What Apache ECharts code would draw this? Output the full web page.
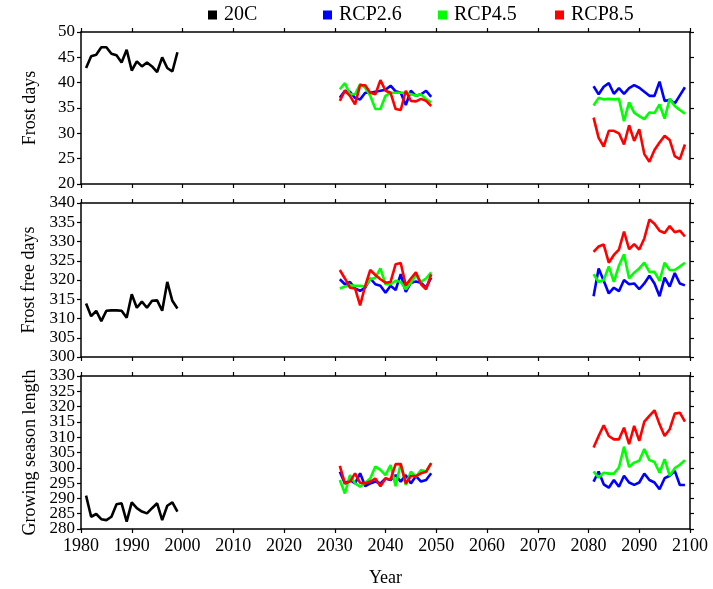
<!DOCTYPE html>
<html>
<head>
<meta charset="utf-8">
<script src="https://cdn.jsdelivr.net/npm/echarts@6/dist/echarts.min.js"></script>
<style>
  html, body { margin: 0; padding: 0; background: #fff; }
  #chart { width: 713px; height: 589px; }
</style>
</head>
<body>
<div id="chart"></div>
<script>
// Years of each simulated period
const years20C  = [1981,1982,1983,1984,1985,1986,1987,1988,1989,1990,1991,1992,1993,1994,1995,1996,1997,1998,1999];
const yearsMid  = [2031,2032,2033,2034,2035,2036,2037,2038,2039,2040,2041,2042,2043,2044,2045,2046,2047,2048,2049];
const yearsLate = [2081,2082,2083,2084,2085,2086,2087,2088,2089,2090,2091,2092,2093,2094,2095,2096,2097,2098,2099];

const scenarioNames = ['20C', 'RCP2.6', 'RCP4.5', 'RCP8.5'];
const panelTitles = ['Frost days', 'Frost free days', 'Growing season length'];
const xTitle = 'Year';

// Frost days
const frost20C    = [42.9,45.2,45.5,47.0,47.0,45.7,45.4,44.0,46.5,42.4,44.2,43.2,44.0,43.2,42.1,45.0,42.9,42.2,46.0];
const frost26Mid  = [37.0,38.4,38.2,37.0,36.7,38.0,38.0,38.2,38.4,38.6,39.4,38.3,38.0,35.6,38.4,37.4,37.7,38.4,37.2];
const frost26Late = [39.3,37.7,39.2,39.9,37.8,38.9,37.8,38.9,39.5,39.0,38.2,37.4,37.4,40.2,36.4,36.6,35.9,37.5,39.1];
const frost45Mid  = [38.7,39.9,37.7,37.7,39.7,39.0,37.4,34.8,34.8,37.4,38.0,38.0,38.0,38.0,37.7,37.4,37.7,36.7,36.1];
const frost45Late = [35.5,37.0,36.7,36.8,36.7,36.8,32.4,36.1,34.1,33.4,32.8,34.1,34.0,35.7,32.9,36.8,35.4,34.6,33.9];
const frost85Mid  = [36.4,38.4,37.4,35.7,39.5,39.5,38.0,37.7,40.5,38.4,38.0,34.8,34.6,38.4,36.4,36.3,36.8,36.4,35.4];
const frost85Late = [33.1,29.1,27.4,30.5,30.5,30.0,27.8,31.6,28.5,30.8,25.9,24.4,26.7,28.2,29.5,28.7,25.5,24.9,27.8];

// Frost free days
const free20C    = [313.9,310.6,312.0,309.3,312.0,312.1,312.1,312.0,310.2,316.3,312.8,314.4,312.8,314.6,314.7,312.0,319.5,314.6,312.6];
const free26Mid  = [320.2,318.9,319.5,317.8,317.2,318.0,320.4,318.9,318.5,316.7,318.5,317.4,321.5,316.9,319.3,319.6,319.3,318.0,320.6];
const free26Late = [315.8,323.0,319.8,316.5,318.0,317.1,320.0,318.9,319.1,317.6,319.1,321.1,319.1,315.8,320.6,318.3,321.8,319.1,318.6];
const free45Mid  = [317.8,318.3,318.6,318.5,318.5,318.3,320.2,320.6,323.0,318.9,318.9,319.8,319.5,317.6,319.3,321.3,319.5,320.4,322.0];
const free45Late = [321.5,319.5,320.0,323.5,319.5,323.7,326.7,320.4,321.9,323.0,324.5,322.1,322.1,319.8,324.5,322.6,322.6,323.5,324.5];
const free85Mid  = [322.6,320.4,318.0,317.8,313.4,318.5,322.6,321.3,320.2,319.3,319.5,324.1,324.4,318.6,320.4,322.0,318.9,317.6,321.5];
const free85Late = [327.3,328.7,329.2,324.5,326.5,327.9,332.6,328.0,329.3,327.9,330.8,335.7,334.6,332.8,332.2,334.0,332.4,332.8,331.3];

// Growing season length
const gsl20C    = [290.9,284.0,284.9,283.2,282.9,284.0,288.1,288.4,282.4,288.7,286.8,285.7,285.1,286.8,288.4,282.9,287.6,288.7,285.7];
const gsl26Mid  = [298.7,294.9,296.0,294.9,298.2,294.0,294.9,295.5,294.9,296.5,296.0,297.6,295.5,297.6,294.9,297.3,295.5,296.0,298.2];
const gsl26Late = [295.5,298.8,294.6,293.5,296.0,293.8,297.4,295.2,294.4,295.2,298.1,296.0,295.2,293.0,296.6,297.4,299.0,294.4,294.4];
const gsl45Mid  = [296.0,291.6,297.6,294.9,293.8,295.1,296.5,300.4,299.3,297.6,300.9,294.0,301.5,294.4,298.7,297.1,299.3,298.7,301.5];
const gsl45Late = [298.8,296.8,298.4,298.1,298.1,300.1,306.9,300.3,301.7,302.3,306.1,302.5,301.9,298.4,302.8,297.4,299.9,301.0,302.5];
const gsl85Mid  = [300.6,294.9,295.5,298.2,295.1,294.9,295.5,296.5,294.0,296.5,296.2,301.2,301.2,294.9,297.3,297.3,298.2,298.7,301.5];
const gsl85Late = [306.6,310.4,313.9,310.4,309.3,309.3,313.1,307.7,313.7,308.8,315.1,317.0,318.8,314.2,310.4,312.6,317.7,318.0,315.1];

// Axis ranges of the three panels
const yMins = [20, 300, 280];
const yMaxs = [50, 340, 330];
const yStep = 5;
const xMin = 1980, xMax = 2100, xStep = 10;

const colors = { '20C': '#000000', 'RCP2.6': '#0000ff', 'RCP4.5': '#00ff00', 'RCP8.5': '#ff0000' };

const panels = [
  { base: frost20C, mid: [frost26Mid, frost45Mid, frost85Mid], late: [frost26Late, frost45Late, frost85Late] },
  { base: free20C,  mid: [free26Mid,  free45Mid,  free85Mid],  late: [free26Late,  free45Late,  free85Late] },
  { base: gsl20C,   mid: [gsl26Mid,   gsl45Mid,   gsl85Mid],   late: [gsl26Late,   gsl45Late,   gsl85Late] }
];

const FONT = 'Liberation Serif';
const zip = (xs, ys) => xs.map((x, i) => [x, ys[i]]);
const plain = (v) => String(v);

const axisLine = { show: true, onZero: false, lineStyle: { color: '#000', width: 1.5 } };
const axisTick = { show: true, inside: false, length: 4, lineStyle: { color: '#000', width: 1.2 } };
const tickLabel = { color: '#000', fontFamily: FONT, fontSize: 17, margin: 6, formatter: plain,
                    showMinLabel: true, showMaxLabel: true };

const PLOT_LEFT = 81, PLOT_RIGHT = 23;
const grids = [
  { left: PLOT_LEFT, right: PLOT_RIGHT, top: 32, height: 152 },
  { left: PLOT_LEFT, right: PLOT_RIGHT, top: 203, height: 154 },
  { left: PLOT_LEFT, right: PLOT_RIGHT, top: 376, height: 153 }
];

const xAxes = [], yAxes = [], series = [];
grids.forEach((g, p) => {
  const last = p === grids.length - 1;
  xAxes.push({
    type: 'value', gridIndex: p, position: 'bottom', min: xMin, max: xMax, interval: xStep,
    axisLine, axisTick, splitLine: { show: false },
    axisLabel: { show: last, color: '#000', fontFamily: FONT, fontSize: 18, margin: 8, formatter: plain,
                 showMinLabel: true, showMaxLabel: true },
    name: last ? xTitle : '', nameLocation: 'middle', nameGap: 40,
    nameTextStyle: { color: '#000', fontFamily: FONT, fontSize: 18 }
  });
  xAxes.push({
    type: 'value', gridIndex: p, position: 'top', min: xMin, max: xMax, interval: xStep,
    axisLine, axisTick, splitLine: { show: false }, axisLabel: { show: false }
  });
  yAxes.push({
    type: 'value', gridIndex: p, position: 'left', min: yMins[p], max: yMaxs[p], interval: yStep,
    axisLine, axisTick, splitLine: { show: false },
    // the tall bottom panel has its labels placed by two label-only axes below
    axisLabel: last ? { show: false } : tickLabel,
    name: panelTitles[p], nameLocation: 'middle', nameGap: 42,
    nameTextStyle: { color: '#000', fontFamily: FONT, fontSize: 18 }
  });
  yAxes.push({
    type: 'value', gridIndex: p, position: 'right', min: yMins[p], max: yMaxs[p], interval: yStep,
    axisLine, axisTick, splitLine: { show: false }, axisLabel: { show: false }
  });

  const line = (name, data) => ({
    name, type: 'line', xAxisIndex: 2 * p, yAxisIndex: 2 * p, data,
    showSymbol: false, symbol: 'none', silent: true, animation: false,
    color: colors[name], itemStyle: { color: colors[name] },
    lineStyle: { color: colors[name], width: 2.6 }
  });
  const pd = panels[p];
  series.push(line('20C', zip(years20C, pd.base)));
  [1, 2, 3].forEach((k) => {
    series.push(line(scenarioNames[k], zip(yearsMid, pd.mid[k - 1])));
    series.push(line(scenarioNames[k], zip(yearsLate, pd.late[k - 1])));
  });
});

// Bottom panel: its 5-unit labels sit too close for the automatic overlap
// filter, so the even and odd labels are drawn by two separate label axes.
const g3 = grids[2];
const unit = g3.height / (yMaxs[2] - yMins[2]);
grids.push({ left: PLOT_LEFT, right: PLOT_RIGHT, top: g3.top + unit * yStep, height: g3.height - 2 * unit * yStep });
const labelOnly = (gridIndex, min, max) => ({
  type: 'value', gridIndex, position: 'left', min, max, interval: 2 * yStep,
  axisLine: { show: false, onZero: false }, axisTick: { show: false }, splitLine: { show: false },
  axisLabel: tickLabel
});
yAxes.push(labelOnly(2, yMins[2], yMaxs[2]));
yAxes.push(labelOnly(3, yMins[2] + yStep, yMaxs[2] - yStep));
xAxes.push({ type: 'value', gridIndex: 3, min: xMin, max: xMax, show: false });

const legendLefts = [208, 323, 438, 555];
const legends = scenarioNames.map((n, i) => ({
  data: [n], left: legendLefts[i], top: 5, padding: 0,
  icon: 'rect', itemWidth: 9, itemHeight: 9, selectedMode: false,
  textStyle: { color: '#000', fontFamily: FONT, fontSize: 20, padding: [0, 0, 0, 2] }
}));

const chart = echarts.init(document.getElementById('chart'), null, { renderer: 'canvas' });
chart.setOption({
  backgroundColor: '#fff',
  animation: false,
  legend: legends,
  grid: grids,
  xAxis: xAxes,
  yAxis: yAxes,
  series
});
</script>
</body>
</html>
